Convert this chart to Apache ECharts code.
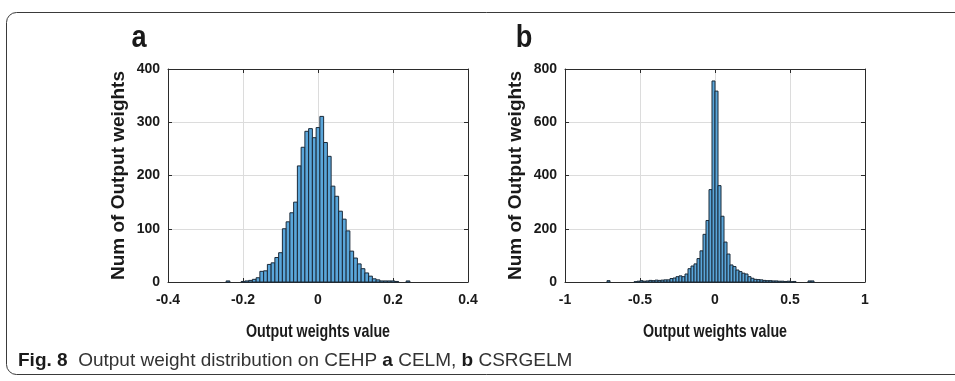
<!DOCTYPE html>
<html>
<head>
<meta charset="utf-8">
<script src="https://cdn.jsdelivr.net/npm/echarts@6/dist/echarts.min.js"></script>
<style>
html,body{margin:0;padding:0;background:#fff;}
#chart{width:955px;height:381px;}
</style>
</head>
<body>
<div id="chart"></div>
<script>
// ---- Data ----
// Panel a: CELM histogram, bin width 0.01, first bin centred at -0.24
var aBinStart = -0.245;
var aBinWidth = 0.01;
var aCounts = [2,0,0,0,1,2,3,5,8,20,21,33,36,46,55,100,113,130,150,218,253,283,288,271,290,311,262,236,180,161,133,118,96,58,45,34,25,17,11,6,4,2,2,2,2,1,0,0,2];
// Panel b: CSRGELM histogram, bin width 0.02, first bin starts at -0.72
var bBinStart = -0.72;
var bBinWidth = 0.02;
var bCounts = [5,0,0,0,0,0,0,0,0,1,3,5,3,4,6,5,7,6,7,8,8,13,15,20,23,20,30,50,60,68,88,117,179,231,347,755,717,362,247,150,105,64,58,45,39,33,30,20,14,10,9,8,6,5,5,4,4,3,3,2,3,1,2,0,0,0,0,4,4];

var aXTicks = {min:-0.4, max:0.4, interval:0.2};
var aYTicks = {min:0, max:400, interval:100};
var bXTicks = {min:-1, max:1, interval:0.5};
var bYTicks = {min:0, max:800, interval:200};

var panelLabels = ['a','b'];
var yTitle = 'Num of Output weights';
var xTitle = 'Output weights value';
var caption = '{b|Fig. 8}  Output weight distribution on CEHP {b|a} CELM, {b|b} CSRGELM';

function toBins(start, width, counts){
  var out = [];
  for (var i=0;i<counts.length;i++){
    var x0 = +(start + i*width).toFixed(4);
    var x1 = +(start + (i+1)*width).toFixed(4);
    out.push([x0, x1, counts[i]]);
  }
  return out;
}

var FONT = '"Liberation Sans", Arial, sans-serif';
var TXT = '#1a1a1a';
var BOX = '#2b2b2b';

function renderHist(params, api){
  var c = api.value(2);
  if (!c) return null;
  var p0 = api.coord([api.value(0), c]);
  var p1 = api.coord([api.value(1), 0]);
  return {
    type:'rect',
    shape:{x:p0[0], y:p0[1], width:p1[0]-p0[0], height:p1[1]-p0[1]},
    style:{fill:'#5aa6da', stroke:'#1b2a38', lineWidth:1}
  };
}

function mainX(idx, t){
  return {
    type:'value', gridIndex:idx, min:t.min, max:t.max, interval:t.interval,
    position:'bottom',
    axisLine:{show:true, onZero:false, lineStyle:{color:BOX, width:1}},
    axisTick:{show:true, inside:true, length:4, lineStyle:{color:BOX}},
    axisLabel:{fontFamily:FONT, fontWeight:'bold', fontSize:14, color:TXT, margin:11},
    splitLine:{show:true, lineStyle:{color:'#dcdcdc', width:1}}
  };
}
function mainY(idx, t){
  return {
    type:'value', gridIndex:idx, min:t.min, max:t.max, interval:t.interval,
    position:'left',
    name:yTitle, nameLocation:'middle', nameGap:40, nameRotate:90,
    nameTextStyle:{fontFamily:FONT, fontWeight:'bold', fontSize:19, color:TXT},
    axisLine:{show:true, onZero:false, lineStyle:{color:BOX, width:1}},
    axisTick:{show:true, inside:true, length:4, lineStyle:{color:BOX}},
    axisLabel:{fontFamily:FONT, fontWeight:'bold', fontSize:14, color:TXT, margin:8},
    splitLine:{show:true, lineStyle:{color:'#dcdcdc', width:1}}
  };
}
function sideAxis(idx, t, pos){
  return {
    type:'value', gridIndex:idx, min:t.min, max:t.max, interval:t.interval,
    position:pos,
    axisLine:{show:true, onZero:false, lineStyle:{color:BOX, width:1}},
    axisTick:{show:true, inside:true, length:4, lineStyle:{color:BOX}},
    axisLabel:{show:false},
    splitLine:{show:false}
  };
}

function condensedText(text, x, y, size, sx){
  return {type:'text', x:x, y:y, scaleX:sx, silent:true,
    style:{text:text, fontFamily:FONT, fontWeight:'bold', fontSize:size, fill:TXT,
           textAlign:'center', textVerticalAlign:'middle'}};
}

var chart = echarts.init(document.getElementById('chart'), null, {renderer:'canvas'});
chart.setOption({
  animation:false,
  backgroundColor:'#ffffff',
  grid:[
    {left:168, top:69, width:300, height:213},
    {left:565, top:69, width:300, height:213}
  ],
  xAxis:[
    mainX(0, aXTicks),
    mainX(1, bXTicks),
    sideAxis(0, aXTicks, 'top'),
    sideAxis(1, bXTicks, 'top')
  ],
  yAxis:[
    mainY(0, aYTicks),
    mainY(1, bYTicks),
    sideAxis(0, aYTicks, 'right'),
    sideAxis(1, bYTicks, 'right')
  ],
  series:[
    {type:'custom', xAxisIndex:0, yAxisIndex:0, renderItem:renderHist,
     encode:{x:[0,1], y:2}, data:toBins(aBinStart, aBinWidth, aCounts)},
    {type:'custom', xAxisIndex:1, yAxisIndex:1, renderItem:renderHist,
     encode:{x:[0,1], y:2}, data:toBins(bBinStart, bBinWidth, bCounts)}
  ],
  graphic:[
    {type:'rect', left:4, top:10, silent:true,
     shape:{x:0, y:0, width:980, height:362, r:10},
     style:{fill:'none', stroke:'#3a3a3a', lineWidth:1}},
    condensedText(panelLabels[0], 139, 38, 32, 0.85),
    condensedText(panelLabels[1], 524, 38, 32, 0.85),
    condensedText(xTitle, 318, 332, 19, 0.75),
    condensedText(xTitle, 715, 332, 19, 0.75),
    {type:'text', x:18, y:351, silent:true,
     style:{text:caption, fontFamily:FONT, fontSize:19, fill:'#333',
            rich:{b:{fontFamily:FONT, fontWeight:'bold', fontSize:19, fill:'#1a1a1a'}}}}
  ]
});
</script>
</body>
</html>
